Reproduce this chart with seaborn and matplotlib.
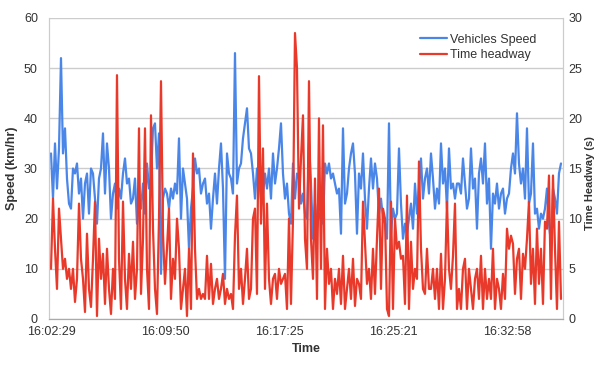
import matplotlib
matplotlib.use("Agg")
import matplotlib.pyplot as plt
import seaborn as sns
import numpy as np
import pandas as pd

speed = [
    33, 24, 35, 26, 34, 52, 33, 38, 28, 23, 22, 30, 29, 31, 25, 28, 20, 27, 29, 21,
    30, 29, 24, 19, 28, 30, 37, 25, 35, 30, 20, 25, 27, 22, 26, 24, 29, 32, 27, 28,
    23, 24, 28, 19, 24, 22, 27, 21, 31, 26, 28, 38, 39, 30, 37, 9, 24, 26, 25, 22,
    26, 24, 27, 25,
    36, 20, 30, 27, 24, 14, 22, 26, 32, 29, 30, 25, 27, 28, 23, 25, 18, 24, 29, 23,
    30, 35, 26, 8, 33, 29, 28, 25, 53, 27, 30, 31, 36, 39, 42, 34, 33, 29, 24, 30,
    28, 24, 25, 29, 26, 30, 24, 33, 27, 30, 34, 39, 29, 24, 27, 21, 19, 31, 24, 29,
    28, 23, 25, 21,
    20, 35, 27, 16, 23, 18, 21, 20, 19, 31, 29, 31, 28, 29, 27, 25, 26, 17, 38, 23,
    25, 30, 33, 35, 29, 17, 29, 26, 33, 24, 18, 26, 32, 26, 31, 28, 21, 24, 20, 19,
    16, 39, 17, 22, 20, 21, 34, 23, 16, 19, 17, 20, 23, 18, 27, 21, 26, 32, 24, 28,
    30, 25, 33, 28,
    22, 26, 23, 35, 27, 30, 22, 34, 26, 27, 24, 27, 27, 25, 32, 27, 22, 24, 34, 26,
    28, 18, 29, 32, 27, 35, 23, 28, 14, 25, 23, 27, 22, 25, 26, 21, 24, 25, 30, 33,
    29, 41, 31, 27, 30, 24, 38, 23, 25, 35, 21, 22, 18, 21, 20, 22, 26, 19, 15, 26,
    24, 21, 29, 31,
]

headway = [
    5, 12, 7, 3, 11, 8, 5, 6, 4, 5, 3, 5, 1.7, 4, 11.5, 6, 4, 0.7, 8.5, 3,
    1.2, 6, 11.7, 0.3, 8, 4, 6.5, 1.5, 7, 3, 0.5, 5, 2, 24.3, 6, 1, 11.7, 4, 1, 6.5,
    3, 7.7, 2, 5, 19, 2.5, 8, 19, 5, 1, 20.3, 9, 3, 0.5, 10, 23.7, 8.5, 3.5, 7, 11,
    2, 6, 4, 10,
    7, 1, 3, 5, 0.3, 7, 1, 16.5, 7, 2, 3, 2, 2.5, 2, 6.3, 2, 5.5, 1.5, 3, 4,
    2, 3, 4.5, 1.5, 3, 2, 2.5, 1, 8.3, 12.3, 3, 5, 1.5, 4, 7, 2, 3, 10, 11, 2.5,
    24.2, 9.5, 17, 3, 11.5, 4, 1.5, 4, 4.5, 2, 5, 3.5, 4, 4.5, 1, 10, 1.5, 10, 28.5, 25,
    11, 16, 20.3, 8,
    5, 23.7, 8, 4, 14, 2, 20, 5, 19.3, 1, 7, 3.5, 5, 1, 4, 2.5, 5, 1.5, 6.3, 1,
    3, 5, 2, 6, 1.3, 4, 3.5, 2, 11.7, 7.5, 3.5, 5, 2, 7, 2.5, 8, 13, 3, 11, 10,
    1, 0.3, 11.7, 1, 10, 7, 7.7, 6, 6.3, 1.5, 12.3, 1, 7.7, 3, 5, 4, 15.7, 7, 3, 2.5,
    7, 3, 3, 5,
    2, 5, 1, 6.5, 1, 4, 11.7, 5, 3, 6.3, 11.5, 1, 3, 1, 5, 6, 1, 5, 3, 1,
    4, 5, 2, 6.3, 1, 5, 2, 4, 2, 7, 1, 4, 3, 1, 4.5, 2, 9, 7, 8.3, 7.5,
    2.5, 6, 7, 2, 6.5, 5, 8, 11.7, 3.5, 7, 1.5, 9, 3.5, 7, 1.5, 9.7, 9, 14.3, 2, 14.3,
    7, 1, 9.7, 2,
]

tick_labels = ["16:02:29", "16:09:50", "16:17:25", "16:25:21", "16:32:58"]
tick_step = 57

n = min(len(speed), len(headway))
df = pd.DataFrame({"idx": np.arange(n), "speed": speed[:n], "headway": headway[:n]})

sns.set_style("white")
plt.rcParams["font.family"] = ["Liberation Sans", "DejaVu Sans"]

fig = plt.figure(figsize=(5.96, 3.67), dpi=100)
ax = fig.add_axes([0.0822, 0.1308, 0.8624, 0.8202])
ax2 = ax.twinx()

blue = "#4a86e8"
red = "#e8392a"
sns.lineplot(data=df, x="idx", y="speed", ax=ax, color=blue, linewidth=1.6, label="Vehicles Speed", legend=False)
sns.lineplot(data=df, x="idx", y="headway", ax=ax2, color=red, linewidth=1.6, label="Time headway", legend=False)

ax.set_xlim(-1, n)
ax.set_ylim(0, 60)
ax2.set_ylim(0, 30)
ax.set_yticks(range(0, 61, 10))
ax2.set_yticks(range(0, 31, 5))
ax.yaxis.grid(True, color="#cccccc", linewidth=1.0)
ax.set_axisbelow(True)

ax.set_xticks([i * tick_step for i in range(len(tick_labels))])
ax.set_xticklabels(tick_labels)
ax.set_xticks(np.arange(n), minor=True)
ax.tick_params(axis="x", which="minor", length=2.5, color="#aaaaaa", width=0.8)
ax.tick_params(axis="x", which="major", length=0, labelsize=9, colors="#333333", pad=5)
ax.tick_params(axis="y", length=0, labelsize=9, colors="#333333", pad=8)
ax2.tick_params(axis="y", length=0, labelsize=9, colors="#333333", pad=4)

for a in (ax, ax2):
    a.spines["top"].set_visible(False)
    a.spines["left"].set_color("#cccccc")
    a.spines["right"].set_color("#cccccc")
    a.spines["bottom"].set_color("#aaaaaa")

ax.set_xlabel("Time", fontsize=9, fontweight="bold", color="#333333", labelpad=4)
ax.set_ylabel("Speed (km/hr)", fontsize=9, fontweight="bold", color="#333333", labelpad=4)
ax2.set_ylabel("")
fig.text(590 / 596, 0.5, "Time Headway (s)", rotation=90, ha="center", va="center",
         fontsize=8, fontweight="bold", color="#333333")

h1, l1 = ax.get_legend_handles_labels()
h2, l2 = ax2.get_legend_handles_labels()
ax2.legend(h1 + h2, l1 + l2, loc="upper right", bbox_to_anchor=(0.97, 0.985), frameon=False,
           fontsize=9, handlelength=2.2, handletextpad=0.2, labelspacing=0.3,
           labelcolor="#333333")

fig.savefig("out.png", dpi=100)
